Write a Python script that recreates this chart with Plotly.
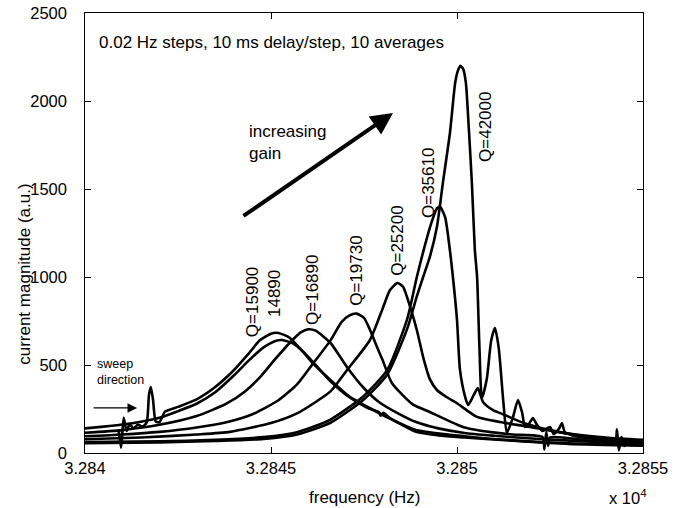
import plotly.graph_objects as go

# frequency (Hz) / current magnitude (a.u.)
freq_q15900 = [32840.9, 32840.97, 32841.04, 32841.12, 32841.2, 32841.3, 32841.42, 32841.55, 32841.66,
               32841.72, 32841.77, 32841.83, 32841.9, 32842.0, 32842.15, 32842.5, 32843.0, 32843.5,
               32844.0, 32844.4, 32844.7, 32845.0, 32845.2, 32845.5, 32845.8, 32846.1, 32846.6,
               32847.1, 32847.7, 32848.2, 32848.9, 32850.2, 32851.5, 32853.0, 32855.0]
mag_q15900 = [135, 30, 200, 125, 165, 140, 160, 150, 175,
              330, 375, 300, 180, 175, 235, 262, 305, 375,
              470, 565, 640, 678, 682, 655, 590, 515, 415,
              322, 250, 195, 131, 95, 72, 55, 45]

freq_q14890 = [32840, 32840.5, 32841, 32841.5, 32842, 32842.5, 32843, 32843.5, 32844, 32844.4,
               32844.8, 32845.1, 32845.3, 32845.6, 32845.9, 32846.2, 32846.6, 32847.1, 32847.6,
               32847.9, 32847.95, 32848.02, 32848.2, 32848.9, 32849.5, 32850.2, 32851.5, 32853, 32855]
mag_q14890 = [140, 150, 162, 178, 200, 238, 280, 345, 440, 525,
              600, 635, 642, 622, 568, 500, 408, 318, 255,
              232, 212, 228, 198, 120, 100, 88, 70, 52, 42]

freq_q16890 = [32840, 32841, 32842, 32843, 32843.8, 32844.3, 32844.7, 32845.1, 32845.5, 32845.8,
               32846.0, 32846.2, 32846.6, 32847.04, 32847.47, 32847.9, 32848.4, 32848.9, 32849.5,
               32850.2, 32851, 32852, 32853.5, 32855]
mag_q16890 = [115, 130, 160, 210, 280, 350, 430, 530, 625, 685,
              703, 695, 625, 489, 375, 290, 227, 176, 140,
              114, 98, 82, 65, 52]

freq_q19730 = [32840, 32841, 32842, 32843, 32843.8, 32844.5, 32845.2, 32845.7, 32846.1, 32846.6,
               32846.9, 32847.1, 32847.3, 32847.5, 32847.66, 32847.85, 32848.0, 32848.25, 32848.8,
               32849.27, 32850.16, 32850.6, 32851.5, 32852.3, 32852.35, 32852.4, 32852.45, 32852.5,
               32853.5, 32854.25, 32854.3, 32854.35, 32854.42, 32854.5, 32854.6, 32855]
mag_q19730 = [95, 105, 120, 145, 175, 220, 300, 390, 500, 640,
              745, 780, 792, 768, 700, 602, 528, 398, 278,
              233, 148, 128, 105, 90, 20, 120, 40, 88,
              72, 64, 135, 15, 90, 40, 62, 60]

freq_q25200 = [32840, 32841.5, 32843, 32843.9, 32845, 32845.7, 32846.2, 32846.6, 32847.04, 32847.66,
               32848.0, 32848.2, 32848.4, 32848.55, 32848.74, 32848.92, 32849.09, 32849.27, 32849.46,
               32849.72, 32849.99, 32850.54, 32851.16, 32851.96, 32853, 32854, 32855]
mag_q25200 = [78, 88, 105, 120, 170, 225, 290, 350, 470, 642,
              820, 926, 966, 945, 830, 699, 545, 420, 358,
              318, 284, 205, 176, 148, 110, 88, 75]

freq_q35610 = [32840, 32842, 32843.5, 32844.8, 32845.7, 32846.6, 32847.47, 32848.12, 32848.66, 32848.92,
               32849.1, 32849.3, 32849.45, 32849.54, 32849.68, 32849.81, 32849.89, 32850.0, 32850.08,
               32850.22, 32850.3, 32850.45, 32850.56, 32850.7, 32850.97, 32851.24, 32851.77, 32852.5,
               32853.5, 32855]
mag_q35610 = [62, 66, 75, 90, 118, 190, 320, 470, 760, 1000,
              1150, 1300, 1385, 1400, 1340, 1150, 1000, 756, 472,
              318, 273, 330, 369, 290, 244, 220, 172, 130,
              92, 62]

freq_q42000 = [32840, 32842, 32843.5, 32844.8, 32845.7, 32846.6, 32847.47, 32848.12, 32848.66, 32848.92,
               32849.09, 32849.27, 32849.46, 32849.62, 32849.81, 32849.95, 32850.02, 32850.09, 32850.17,
               32850.24, 32850.3, 32850.4, 32850.48, 32850.54, 32850.6, 32850.67, 32850.8, 32850.92,
               32851.02, 32851.12, 32851.25, 32851.34, 32851.5, 32851.64, 32851.75, 32851.83, 32851.95,
               32852.04, 32852.15, 32852.3, 32852.5, 32852.6, 32852.75, 32852.82, 32852.9, 32853.1,
               32853.5, 32854, 32855]
mag_q42000 = [56, 60, 68, 80, 105, 172, 300, 445, 705, 890,
              1000, 1114, 1284, 1534, 1818, 2102, 2170, 2200, 2180,
              2100, 1909, 1534, 1153, 1000, 620, 312, 420, 640,
              710, 600, 280, 114, 200, 301, 230, 148, 170,
              199, 160, 125, 148, 108, 140, 170, 118, 100,
              85, 70, 58]

curves = [
    (freq_q15900, mag_q15900),
    (freq_q14890, mag_q14890),
    (freq_q16890, mag_q16890),
    (freq_q19730, mag_q19730),
    (freq_q25200, mag_q25200),
    (freq_q35610, mag_q35610),
    (freq_q42000, mag_q42000),
]

x_ticks = [32840, 32845, 32850, 32855]
x_tick_text = ["3.284", "3.2845", "3.285", "3.2855"]
y_ticks = [0, 500, 1000, 1500, 2000, 2500]
y_tick_text = [str(v) + "\u00a0\u00a0\u00a0" for v in y_ticks]  # pads labels away from the axis

# Q labels: text, frequency, magnitude of label centre
q_labels = [
    ("Q=15900", 32844.52, 858),
    ("14890", 32845.08, 909),
    ("Q=16890", 32846.10, 926),
    ("Q=19730", 32847.28, 1034),
    ("Q=25200", 32848.41, 1205),
    ("Q=35610", 32849.22, 1534),
    ("Q=42000", 32850.75, 1852),
]

FONT = "Liberation Sans, Arial, sans-serif"

fig = go.Figure()
for fr, mag in curves:
    fig.add_trace(go.Scatter(
        x=fr, y=mag, mode="lines",
        line=dict(color="black", width=2.6, shape="spline", smoothing=0.6),
        showlegend=False, hoverinfo="skip",
    ))

ann = []
for txt, fx, my in q_labels:
    ann.append(dict(x=fx, y=my, xref="x", yref="y", text=txt, textangle=-90,
                    xanchor="center", yanchor="middle",
                    showarrow=False, font=dict(size=17, color="black")))

ann += [
    dict(x=32840.32, y=2335, xref="x", yref="y", text="0.02 Hz steps, 10 ms delay/step, 10 averages",
         showarrow=False, xanchor="left", yanchor="middle", font=dict(size=17, color="black")),
    dict(x=32844.35, y=1763, xref="x", yref="y", text="increasing<br>gain", align="left",
         showarrow=False, xanchor="left", yanchor="middle", font=dict(size=17, color="black")),
    dict(x=32848.28, y=1932, ax=32844.22, ay=1341, xref="x", yref="y", axref="x", ayref="y",
         text="", showarrow=True, arrowhead=2, arrowsize=1.1, arrowwidth=4, arrowcolor="black"),
    dict(x=32840.28, y=462, xref="x", yref="y", text="sweep<br>direction", align="left",
         showarrow=False, xanchor="left", yanchor="middle", font=dict(size=12.5, color="black")),
    dict(x=32841.4, y=256, ax=32840.19, ay=256, xref="x", yref="y", axref="x", ayref="y",
         text="", showarrow=True, arrowhead=2, arrowsize=1.6, arrowwidth=1.2, arrowcolor="black"),
    dict(x=0.5, y=-0.1, xref="paper", yref="paper", text="frequency (Hz)",
         xanchor="center", yanchor="middle",
         showarrow=False, font=dict(size=17, color="black")),
    dict(x=0.973, y=-0.1, xref="paper", yref="paper", text="x 10<sup>4</sup>",
         xanchor="center", yanchor="middle",
         showarrow=False, font=dict(size=16.5, color="black")),
    dict(x=-0.1075, y=0.405, xref="paper", yref="paper", text="current magnitude (a.u.)",
         xanchor="center", yanchor="middle",
         textangle=-90, showarrow=False, font=dict(size=17, color="black")),
]

fig.update_layout(
    template="none",
    width=684, height=508, autosize=False,
    margin=dict(l=85, r=41, t=13, b=55),
    paper_bgcolor="white", plot_bgcolor="white",
    font=dict(family=FONT, size=16.5, color="black"),
    annotations=ann,
)
fig.update_xaxes(
    range=[32840, 32855], tickvals=x_ticks, ticktext=x_tick_text, automargin=False,
    ticks="inside", ticklen=6, tickcolor="black", showgrid=False, zeroline=False,
    showline=True, linecolor="black", linewidth=1, mirror="ticks", ticklabeloverflow="allow",
)
fig.update_yaxes(
    range=[0, 2500], tickvals=y_ticks, ticktext=y_tick_text, automargin=False,
    ticks="inside", ticklen=6, tickcolor="black", showgrid=False, zeroline=False,
    showline=True, linecolor="black", linewidth=1, mirror="ticks", ticklabeloverflow="allow",
)

# drop the default 8 px page margin so the figure fills the window exactly
fig.write_html("out.html", config={"displayModeBar": False},
               post_script="document.body.style.margin='0';")
